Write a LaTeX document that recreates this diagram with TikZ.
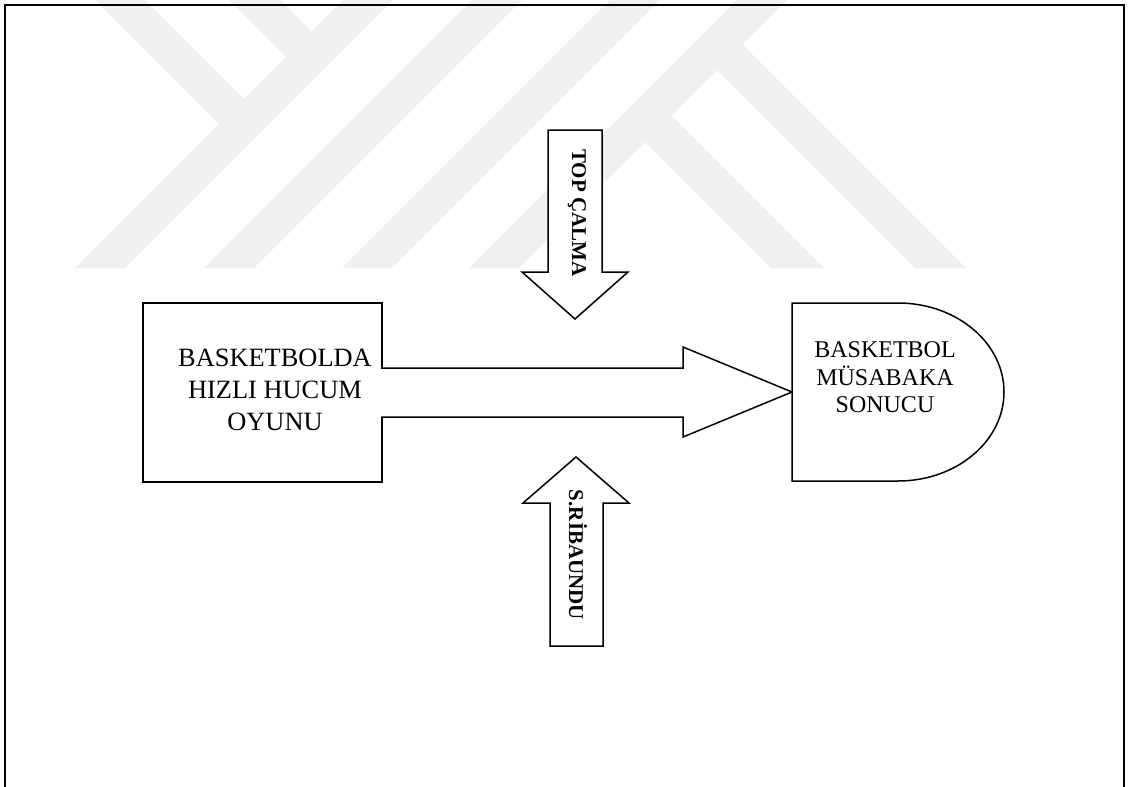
\documentclass[tikz,border=0pt]{standalone}
\usepackage{fontspec}
\setmainfont{Liberation Serif}
\usetikzlibrary{positioning, calc}

\begin{document}
\begin{tikzpicture}[
			x=0.5pt, y=-0.5pt,
			frame/.style={draw, line width=1pt},
			logo/.style={fill=black!6},
			block/.style={draw, line width=0.75pt, fill=white, line join=miter},
			process/.style={rectangle, draw, line width=0.75pt, fill=white,
				minimum width=119.5pt, minimum height=89.5pt, inner sep=0pt},
			boxtxt/.style={align=center, font=\fontsize{13.2}{16.15}\selectfont},
			endtxt/.style={align=center, font=\fontsize{12}{13.75}\selectfont},
			sidetxt/.style={rotate=-90, inner sep=0pt, font=\bfseries\fontsize{10.5}{12}\selectfont}
			]
			\useasboundingbox (0,0) rectangle (1130,787);
			% watermark
			\begin{scope}
				\clip (0,0) rectangle (1130,268);
				\foreach \a in {343,472,610,737}
					\fill[logo] (\a+10,-10) -- (\a+60,-10) -- (\a-218,268) -- (\a-268,268) -- cycle;
				\fill[logo] (85,-10) -- (135,-10) -- (252.5,107.5) -- (227.5,132.5) -- cycle;
				\fill[logo] (219,-10) -- (270,-10) -- (320,40) -- (294.5,65.5) -- cycle;
				\fill[logo] (734,36) -- (966,268) -- (915,268) -- (708.5,61.5) -- cycle;
				\fill[logo] (663,107) -- (824,268) -- (771,268) -- (636.5,133.5) -- cycle;
			\end{scope}
			\draw[frame] (5,800) -- (5,5) -- (1124,5) -- (1124,800);
			
			\node[process] (oyun) at (262.5,392.5) {};
			\node[boxtxt] (oyuntxt) at (275,390) {BASKETBOLDA\\HIZLI HUCUM\\OYUNU};
			\coordinate (sonucW) at (792,392);
			
			\draw[block] (381,368) -- (683,368) -- (683,347) -- (sonucW) -- (683,437) -- (683,417) -- (381,417);
			\draw[block] (sonucW |- 0,303) -- (898,303) arc[start angle=90, end angle=-90, x radius=53pt, y radius=44.5pt] -- (sonucW |- 0,481) -- cycle;
			\node[endtxt] (sonuc) at (885,377.5) {BASKETBOL\\MÜSABAKA\\SONUCU};
			
			\draw[block] (548,130) -- (602,130) -- (602,272) -- (628,272) -- (575,319) -- (522,272) -- (548,272) -- cycle;
			\node[sidetxt] (calma) at (577,213) {TOP ÇALMA};
			\draw[block] (550,646) -- (603,646) -- (603,503) -- (629,503) -- (576,457) -- (523,503) -- (550,503) -- cycle;
			\node[sidetxt] (ribaund) at (578,555) {S.RİBAUNDU};
		\end{tikzpicture}
\end{document}
